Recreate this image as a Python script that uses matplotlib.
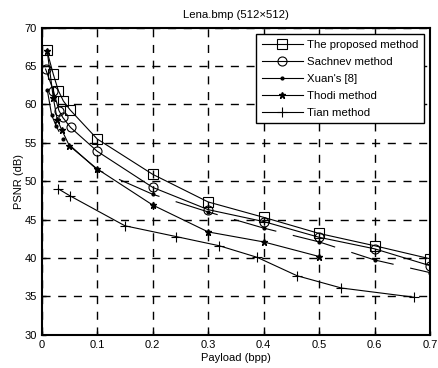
import matplotlib
matplotlib.use("Agg")
import matplotlib.pyplot as plt

plt.rcParams['font.family'] = ['Liberation Sans', 'DejaVu Sans']
plt.rcParams['lines.scale_dashes'] = False

# data
prop_x = [0.009, 0.021, 0.030, 0.039, 0.051, 0.1, 0.2, 0.3, 0.4, 0.5, 0.6, 0.7]
prop_y = [67.1, 63.9, 61.8, 60.45, 59.3, 55.5, 50.9, 47.3, 45.3, 43.2, 41.6, 39.9]

sach_x = [0.007, 0.021, 0.031, 0.038, 0.052, 0.1, 0.2, 0.3, 0.4, 0.5, 0.6, 0.7]
sach_y = [64.6, 61.8, 59.2, 58.3, 57.0, 53.9, 49.2, 46.3, 44.75, 42.7, 41.2, 39.0]

xuan_x = [0.010, 0.018, 0.026, 0.038, 0.1, 0.2, 0.3, 0.4, 0.5, 0.6, 0.7]
xuan_y = [61.9, 58.6, 57.2, 55.5, 51.5, 48.3, 46.0, 43.9, 42.1, 39.75, 38.1]

thodi_x = [0.010, 0.021, 0.028, 0.036, 0.05, 0.1, 0.2, 0.3, 0.4, 0.5]
thodi_y = [66.9, 60.8, 58.0, 56.7, 54.6, 51.6, 46.9, 43.4, 42.1, 40.2]

tian_x = [0.03, 0.051, 0.15, 0.242, 0.32, 0.388, 0.46, 0.54, 0.671]
tian_y = [49.0, 48.1, 44.2, 42.8, 41.6, 40.1, 37.7, 36.1, 34.9]

x_ticks = [0, 0.1, 0.2, 0.3, 0.4, 0.5, 0.6, 0.7]
x_tick_labels = ['0', '0.1', '0.2', '0.3', '0.4', '0.5', '0.6', '0.7']
y_ticks = [30, 35, 40, 45, 50, 55, 60, 65, 70]

fig = plt.figure(figsize=(4.39, 3.68), dpi=100)
ax = fig.add_axes([0.095, 0.09, 0.885, 0.835])

lw = 0.8
ax.plot(prop_x, prop_y, color='black', lw=lw, marker='s', ms=6.5,
        mfc='none', mec='black', mew=0.8, label='The proposed method')
ax.plot(sach_x, sach_y, color='black', lw=lw, marker='o', ms=6.5,
        mfc='none', mec='black', mew=0.8, label='Sachnev method')
ax.plot(xuan_x, xuan_y, color='black', lw=lw, marker='.', ms=4,
        dashes=(31.7, 12.2), label="Xuan's [8]")
ax.plot(thodi_x, thodi_y, color='black', lw=lw, marker='*', ms=5,
        mfc='black', mec='black', label='Thodi method')
ax.plot(tian_x, tian_y, color='black', lw=lw, marker='+', ms=7,
        mew=0.8, label='Tian method')

ax.set_xlim(0, 0.7)
ax.set_ylim(30, 70)
ax.set_xticks(x_ticks)
ax.set_xticklabels(x_tick_labels)
ax.set_yticks(y_ticks)
ax.tick_params(direction='in', length=3, labelsize=8, width=1)
ax.grid(True, color='black', linestyle=(0, (5.8, 5.5)), lw=1.0)

for s in ax.spines.values():
    s.set_linewidth(1.5)

ax.set_title('Lena.bmp (512×512)', fontsize=8.2, pad=7)
ax.set_xlabel('Payload (bpp)', fontsize=8, labelpad=2)
ax.set_ylabel('PSNR (dB)', fontsize=8, labelpad=0)

leg = ax.legend(loc='upper right', fontsize=8.2, fancybox=False,
                framealpha=1, edgecolor='black', handlelength=3.6,
                borderaxespad=0.55, labelspacing=0.62, handletextpad=0.35,
                borderpad=0.5)
leg.get_frame().set_linewidth(1.0)
for h in leg.get_lines():
    h.set_linestyle('-')

fig.savefig('out.png', dpi=100)
